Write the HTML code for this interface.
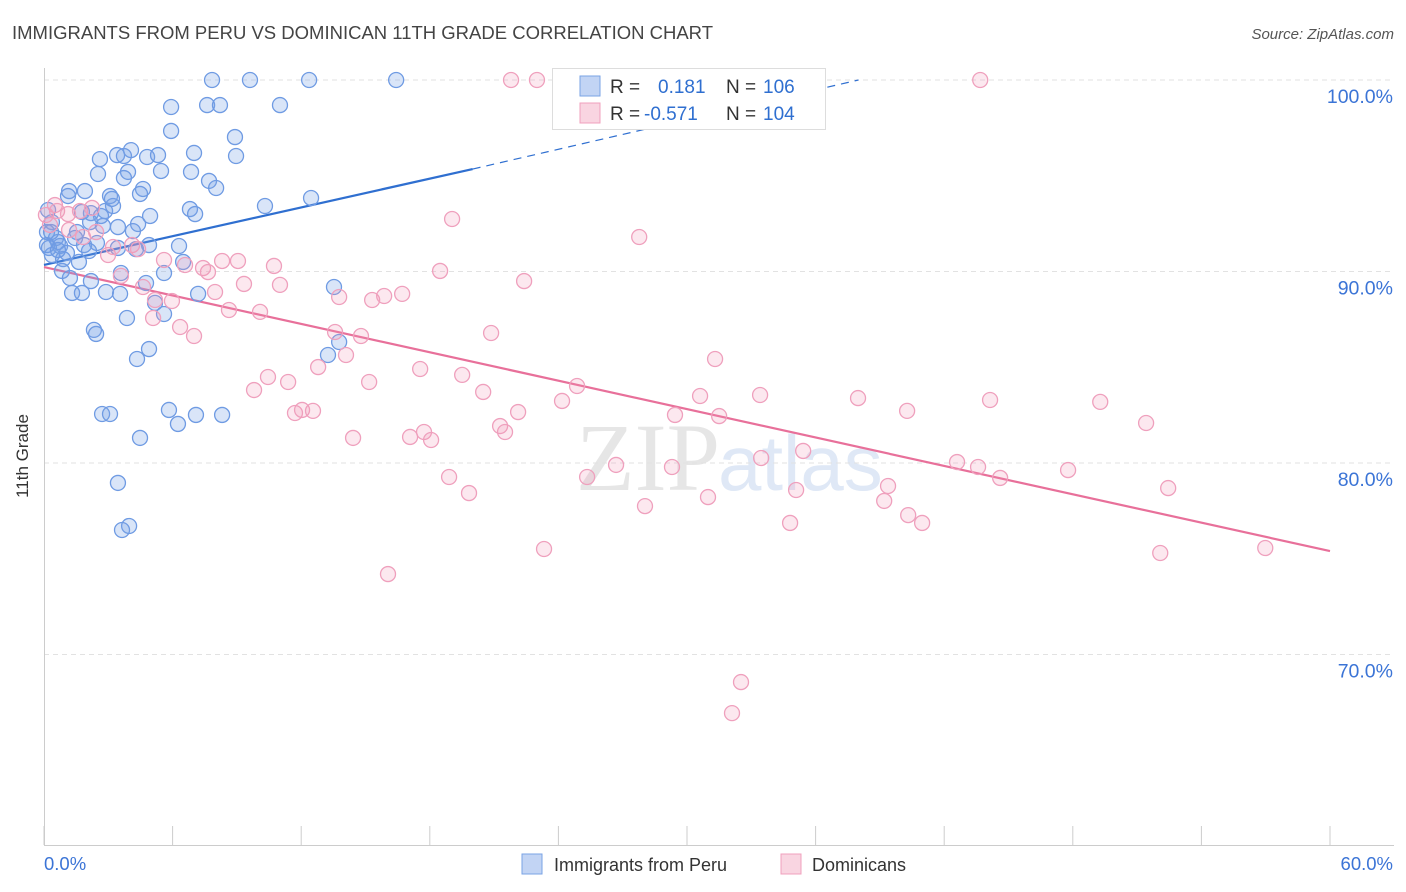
<!DOCTYPE html>
<html><head><meta charset="utf-8"><style>
body{margin:0;background:#fff;font-family:"Liberation Sans",sans-serif}
#wrap{position:relative;width:1406px;height:892px;overflow:hidden}
</style></head><body>
<div id="wrap">
<svg id="chart" width="1406" height="892" xmlns="http://www.w3.org/2000/svg">
<text x="12" y="39" font-size="18.5" fill="#444">IMMIGRANTS FROM PERU VS DOMINICAN 11TH GRADE CORRELATION CHART</text>
<text x="1394" y="39" font-size="15" fill="#555" font-style="italic" text-anchor="end">Source: ZipAtlas.com</text>
<text x="720" y="490" font-size="96" fill="#e6e6e6" text-anchor="end" font-family="Liberation Serif">ZIP</text>
<text x="718" y="490" font-size="78" fill="#dfe8f6">atlas</text>
<g id="grid"></g><g id="axes"></g><g id="trend"></g><g id="pts"></g>
<text x="28" y="456" font-size="17" fill="#333" text-anchor="middle" transform="rotate(-90 28 456)">11th Grade</text>
<g>
<rect x="552.5" y="68.5" width="273" height="61" fill="#fff" stroke="#ddd"/>
<rect x="580" y="76" width="20" height="20" fill="rgba(120,160,230,0.45)" stroke="#7aa3e5"/>
<rect x="580" y="103" width="20" height="20" fill="rgba(240,150,180,0.4)" stroke="#f0a0bd"/>
<text y="93" font-size="19"><tspan x="610" fill="#333">R = </tspan><tspan x="658" fill="#2f6fd0">0.181</tspan><tspan x="726" fill="#333">N = </tspan><tspan x="763" fill="#2f6fd0">106</tspan></text>
<text y="120" font-size="19"><tspan x="610" fill="#333">R = </tspan><tspan x="644" fill="#2f6fd0">-0.571</tspan><tspan x="726" fill="#333">N = </tspan><tspan x="763" fill="#2f6fd0">104</tspan></text>
</g>
<rect x="522" y="854" width="20" height="20" fill="rgba(120,160,230,0.45)" stroke="#7aa3e5"/>
<text x="554" y="871" font-size="18" fill="#333">Immigrants from Peru</text>
<rect x="781" y="854" width="20" height="20" fill="rgba(240,150,180,0.4)" stroke="#f0a0bd"/>
<text x="812" y="871" font-size="18" fill="#333">Dominicans</text>
</svg>
</div>
<script>
const yTicks=[100,90,80,70];
const yTickLabels=["100.0%","90.0%","80.0%","70.0%"];
const xEndLabels=["0.0%","60.0%"];
const peruX=[7.84,9.61,12.37,16.43,5.93,7.61,8.21,11.01,5.93,8.91,2.61,3.41,4.06,3.73,4.81,5.32,7.0,8.96,2.52,3.92,5.46,6.86,3.73,7.7,8.03,1.17,1.91,4.62,4.48,3.08,10.31,12.46,1.12,1.77,2.19,2.85,2.66,3.22,3.17,6.81,7.05,4.95,4.39,0.19,0.37,2.15,4.15,3.45,2.75,1.54,0.14,0.56,1.45,2.47,1.87,0.65,0.23,0.75,3.45,4.9,6.3,4.29,1.07,2.1,0.37,0.89,1.63,6.49,0.84,5.6,3.59,2.19,4.76,1.21,1.31,1.77,2.89,3.55,7.19,13.53,5.18,5.6,3.87,2.33,2.43,4.9,4.34,13.77,13.25,2.71,3.08,5.83,7.09,8.31,6.25,4.48,3.45,3.97,3.64,0.14,0.33,0.65];
const peruY=[100,100,100,100,98.59,98.69,98.69,98.69,97.34,97.02,95.87,96.08,96.34,96.03,95.98,96.08,96.19,96.03,95.09,95.2,95.25,95.2,94.88,94.73,94.36,94.2,94.2,94.31,94.05,93.94,93.42,93.84,93.94,93.11,93.05,93.16,92.9,93.42,93.79,93.26,93.0,92.9,92.48,93.21,92.58,92.58,92.11,92.32,92.38,92.06,92.06,91.75,91.75,91.49,91.38,91.54,91.23,91.33,91.23,91.38,91.33,91.17,90.97,91.07,90.86,90.65,90.5,90.5,90.03,89.92,89.92,89.5,89.4,89.66,88.88,88.88,88.93,88.83,88.83,89.19,88.36,87.78,87.57,86.95,86.74,85.95,85.43,86.32,85.64,82.56,82.56,82.77,82.51,82.51,82.04,81.31,78.96,76.71,76.5,91.38,92.06,91.12];
const domX=[21.79,23.0,43.68,0.51,0.61,1.12,1.68,2.24,1.17,1.82,2.43,4.11,2.99,3.22,4.39,5.6,6.58,7.42,8.31,9.05,10.73,3.59,4.62,5.18,5.97,7.65,7.98,9.33,11.01,8.63,10.08,13.77,15.31,15.87,16.71,18.48,19.04,22.4,27.77,5.09,6.35,7.0,12.79,13.58,14.09,14.79,20.86,9.8,10.45,11.39,11.71,12.04,12.55,15.17,17.55,19.51,20.49,22.12,24.17,24.87,21.28,21.51,14.42,17.08,17.73,18.06,18.9,19.83,25.34,26.69,28.04,29.3,29.44,30.61,31.31,31.5,30.98,33.46,33.41,35.42,34.81,35.09,37.98,39.2,39.38,40.27,40.32,40.97,42.6,43.58,44.14,44.61,47.78,49.28,51.42,52.08,52.45,56.98,23.33,16.05,32.52,32.1,0.28,0.09];
const domY=[100,100,100,93.47,93.16,93.0,93.16,93.32,92.17,91.8,92.06,91.38,90.86,91.28,91.17,90.6,90.34,90.18,90.55,90.55,90.29,89.77,89.19,88.51,88.46,89.97,88.93,89.35,89.3,87.99,87.89,88.67,88.51,88.72,88.83,90.03,92.74,89.5,91.8,87.57,87.1,86.63,85.01,86.84,85.64,86.63,86.79,83.81,84.49,84.23,82.61,82.77,82.72,84.23,84.91,84.6,83.71,82.66,83.24,84.02,81.93,81.62,81.31,81.36,81.62,81.2,79.27,78.43,79.27,79.9,77.75,79.79,82.51,83.5,85.43,82.45,78.22,80.26,83.55,80.63,76.87,78.59,83.39,78.02,78.8,82.72,77.28,76.87,80.05,79.79,83.29,79.22,79.63,83.19,82.09,75.3,78.69,75.56,75.51,74.2,68.56,66.94,92.43,92.95];
const peruTrendX=[0,20,38];
const peruTrendY=[90.34,95.35,100];
const domTrendX=[0,60];
const domTrendY=[90.23,75.4];

const NS="http://www.w3.org/2000/svg";
function sx(v){return 44+v/60*1286;}
function sy(v){return 80+(100-v)*19.15;}
function mk(tag,attrs,parent){const e=document.createElementNS(NS,tag);for(const k in attrs)e.setAttribute(k,attrs[k]);document.getElementById(parent).appendChild(e);return e;}

yTicks.forEach((t,i)=>{
  const l=mk('line',{x1:44,x2:1394,y1:sy(t),y2:sy(t),stroke:'#e2e2e2','stroke-dasharray':'5,4'},'grid');
  
  
  const tx=mk('text',{x:1393,y:sy(t)+23,'font-size':19.5,fill:'#3b74d6','text-anchor':'end'},'grid');
  tx.textContent=yTickLabels[i];
  
  
});
const ya=mk('line',{x1:44.5,x2:44.5,y1:68,y2:845,stroke:'#ccc'},'axes');


const xa=mk('line',{x1:44,x2:1394,y1:845.5,y2:845.5,stroke:'#ccc'},'axes');


for(let i=0;i<=10;i++){
  const t=mk('line',{x1:sx(i*6),x2:sx(i*6),y1:826,y2:845,stroke:'#ccc'},'axes');
  
  
}
const xl0=mk('text',{x:44,y:870,'font-size':18.5,fill:'#3b74d6'},'axes');
xl0.textContent=xEndLabels[0];


const xl1=mk('text',{x:1393,y:870,'font-size':18.5,fill:'#3b74d6','text-anchor':'end'},'axes');
xl1.textContent=xEndLabels[1];



function dots(xs,ys,fill,stroke,name){
  xs.forEach((x,i)=>{
    const c=mk('circle',{cx:sx(x),cy:sy(ys[i]),r:7.5,fill:fill,stroke:stroke,'stroke-width':1.3},'pts');
    
    
  });
}
dots(peruX,peruY,'rgba(120,160,230,0.28)','#6f9be3','peru-point');
dots(domX,domY,'rgba(240,150,180,0.22)','#efa0bd','dominican-point');

const pt1=mk('line',{x1:sx(peruTrendX[0]),y1:sy(peruTrendY[0]),x2:sx(peruTrendX[1]),y2:sy(peruTrendY[1]),stroke:'#2f6fd0','stroke-width':2.2},'trend');


const pt2=mk('line',{x1:sx(peruTrendX[1]),y1:sy(peruTrendY[1]),x2:sx(peruTrendX[2]),y2:sy(peruTrendY[2]),stroke:'#2f6fd0','stroke-width':1.2,'stroke-dasharray':'8,6'},'trend');


const dt=mk('line',{x1:sx(domTrendX[0]),y1:sy(domTrendY[0]),x2:sx(domTrendX[1]),y2:sy(domTrendY[1]),stroke:'#e8709a','stroke-width':2.2},'trend');


</script>
</body></html>
